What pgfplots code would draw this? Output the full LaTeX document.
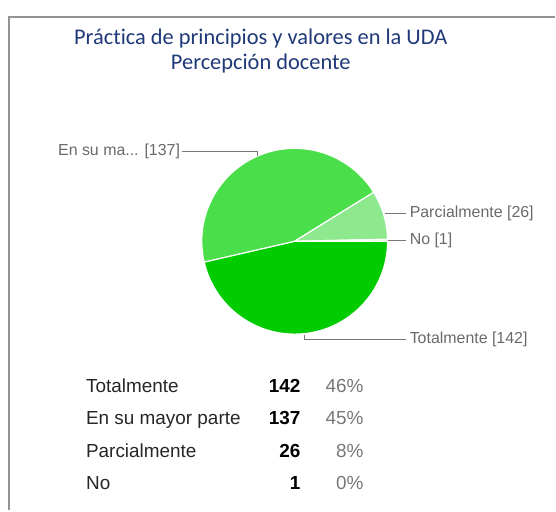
\documentclass[border=0pt]{standalone}
\usepackage{pgfplots}
\usepackage{pgfplotstable}
\pgfplotsset{compat=1.18}
\usepackage{fontspec}
\setmainfont{Liberation Sans}
\newfontfamily\titlefont[Ligatures=NoCommon]{Carlito}
\definecolor{cTot}{RGB}{0,204,0}
\definecolor{cMay}{RGB}{74,222,74}
\definecolor{cPar}{RGB}{142,232,142}
\definecolor{cNo}{RGB}{198,243,198}
\definecolor{titleblue}{RGB}{31,56,120}
\definecolor{lblgray}{RGB}{105,105,105}
\definecolor{linegray}{RGB}{120,120,120}
\definecolor{pctgray}{RGB}{120,120,120}
\pgfplotstableread{
label value
Totalmente 142
Mayor 137
Parcialmente 26
No 1
}\piedata
\begin{document}
\begin{tikzpicture}
\pgfplotstablegetelem{0}{value}\of\piedata \let\vA\pgfplotsretval
\pgfplotstablegetelem{1}{value}\of\piedata \let\vB\pgfplotsretval
\pgfplotstablegetelem{2}{value}\of\piedata \let\vC\pgfplotsretval
\pgfplotstablegetelem{3}{value}\of\piedata \let\vD\pgfplotsretval
\pgfmathsetmacro\tot{\vA+\vB+\vC+\vD}
\pgfmathsetmacro\aA{-(\vA/\tot)*360}
\pgfmathsetmacro\aB{\aA-(\vB/\tot)*360}
\pgfmathsetmacro\aC{\aB-(\vC/\tot)*360}
\pgfmathsetmacro\aD{\aC-(\vD/\tot)*360}
\pgfmathsetmacro\pA{int(round((\vA/\tot)*100))}
\pgfmathsetmacro\pB{int(round((\vB/\tot)*100))}
\pgfmathsetmacro\pC{int(round((\vC/\tot)*100))}
\pgfmathsetmacro\pD{int(round((\vD/\tot)*100))}
\def\cx{295}\def\cy{269.5}\def\R{93bp}
\begin{axis}[
  scale only axis, width=556bp, height=511bp,
  xmin=0, xmax=556, ymin=0, ymax=511,
  hide axis, clip=false,
]
\path (axis cs:0,0) rectangle (axis cs:556,511);
% frame
\draw[color=linegray!80, line width=1.2bp] (axis cs:9,0) -- (axis cs:9,494) -- (axis cs:556,494);
% title
\node[anchor=base, font=\titlefont\fontsize{22.5}{26}\selectfont, text=titleblue] at (axis cs:261,466) {Práctica de principios y valores en la UDA};
\node[anchor=base, font=\titlefont\fontsize{22.5}{26}\selectfont, text=titleblue] at (axis cs:261,441) {Percepción docente};
% pie wedges
\filldraw[fill=cTot, draw=white, line width=1.2bp] (axis cs:\cx,\cy) -- ++(0:\R) arc[start angle=0, end angle=\aA, radius=\R] -- cycle;
\filldraw[fill=cMay, draw=white, line width=1.2bp] (axis cs:\cx,\cy) -- ++(\aA:\R) arc[start angle=\aA, end angle=\aB, radius=\R] -- cycle;
\filldraw[fill=cPar, draw=white, line width=1.2bp] (axis cs:\cx,\cy) -- ++(\aB:\R) arc[start angle=\aB, end angle=\aC, radius=\R] -- cycle;
\filldraw[fill=cNo, draw=white, line width=1.2bp] (axis cs:\cx,\cy) -- ++(\aC:\R) arc[start angle=\aC, end angle=\aD, radius=\R] -- cycle;
% leader lines
\draw[linegray, line width=0.9bp] (axis cs:182,359) -- (axis cs:258,359) -- (axis cs:258,355);
\draw[linegray, line width=0.9bp] (axis cs:385,297) -- (axis cs:406,297);
\draw[linegray, line width=0.9bp] (axis cs:388,270.5) -- (axis cs:406,270.5);
\draw[linegray, line width=0.9bp] (axis cs:406,171) -- (axis cs:305,171) -- (axis cs:305,176);
% labels
\tikzset{lbl/.style={text=lblgray, inner sep=0pt, font=\fontsize{16}{19}\selectfont}}
\node[lbl, anchor=west] at (axis cs:58,359) {En su ma... [137]};
\node[lbl, anchor=west] at (axis cs:410,297) {Parcialmente [26]};
\node[lbl, anchor=west] at (axis cs:410,270.5) {No [1]};
\node[lbl, anchor=west] at (axis cs:410,171) {Totalmente [142]};
% summary table
\tikzset{tb/.style={inner sep=0pt, font=\fontsize{19}{22}\selectfont}}
\node[tb, anchor=base west, text=black!85] at (axis cs:86,118) {Totalmente};
\node[tb, anchor=base west, text=black!85] at (axis cs:86,86) {En su mayor parte};
\node[tb, anchor=base west, text=black!85] at (axis cs:86,53) {Parcialmente};
\node[tb, anchor=base west, text=black!85] at (axis cs:86,21) {No};
\node[tb, anchor=base east, font=\fontsize{19}{22}\selectfont\bfseries] at (axis cs:301,118) {\vA};
\node[tb, anchor=base east, font=\fontsize{19}{22}\selectfont\bfseries] at (axis cs:301,86) {\vB};
\node[tb, anchor=base east, font=\fontsize{19}{22}\selectfont\bfseries] at (axis cs:301,53) {\vC};
\node[tb, anchor=base east, font=\fontsize{19}{22}\selectfont\bfseries] at (axis cs:301,21) {\vD};
\node[tb, anchor=base east, text=pctgray] at (axis cs:364,118) {\pA\%};
\node[tb, anchor=base east, text=pctgray] at (axis cs:364,86) {\pB\%};
\node[tb, anchor=base east, text=pctgray] at (axis cs:364,53) {\pC\%};
\node[tb, anchor=base east, text=pctgray] at (axis cs:364,21) {\pD\%};
\end{axis}
\end{tikzpicture}
\end{document}
